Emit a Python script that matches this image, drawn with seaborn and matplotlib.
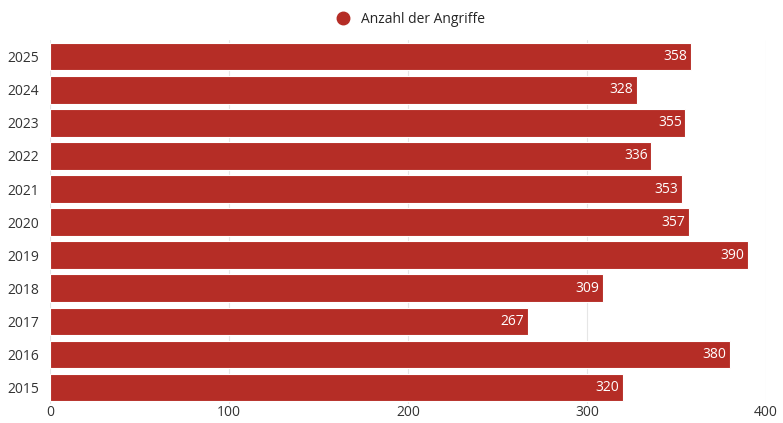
import pandas as pd
import matplotlib.pyplot as plt
import seaborn as sns
from matplotlib.lines import Line2D

# Data
years = ["2025", "2024", "2023", "2022", "2021", "2020", "2019", "2018", "2017", "2016", "2015"]
attacks = [358, 328, 355, 336, 353, 357, 390, 309, 267, 380, 320]
series_name = "Anzahl der Angriffe"

df = pd.DataFrame({"Jahr": years, "Angriffe": attacks})

sns.set_style("white")
plt.rcParams["font.family"] = ["Open Sans", "DejaVu Sans"]

bar_color = "#B52D26"

fig = plt.figure(figsize=(7.83, 4.23), dpi=100)
ax = fig.add_axes([0.0639, 0.045, 0.9144, 0.860])

sns.barplot(data=df, x="Angriffe", y="Jahr", orient="h", color=bar_color,
            saturation=1, width=0.83, edgecolor="white", linewidth=0.8,
            ax=ax, zorder=3)

ax.set_xlim(0, 400)
ax.set_xticks([0, 100, 200, 300, 400])
ax.grid(axis="x", color="#e6e6e6", linewidth=0.8, zorder=0)
ax.set_axisbelow(True)
for s in ax.spines.values():
    s.set_visible(False)
ax.set_xlabel("")
ax.set_ylabel("")
ax.tick_params(axis="both", length=0, labelsize=10, colors="#333333")
ax.tick_params(axis="x", pad=1)
ax.tick_params(axis="y", pad=8)

# value labels inside bar end
for i, v in enumerate(attacks):
    ax.text(v - 2, i, str(v), ha="right", va="center", color="white", fontsize=10, zorder=4)

# legend at top
handle = Line2D([], [], marker="o", linestyle="", markersize=9, color=bar_color)
fig.legend([handle], [series_name], loc="center", bbox_to_anchor=(0.52, 0.955),
           frameon=False, fontsize=10, handletextpad=0.3)

fig.savefig("out.png", dpi=100)
